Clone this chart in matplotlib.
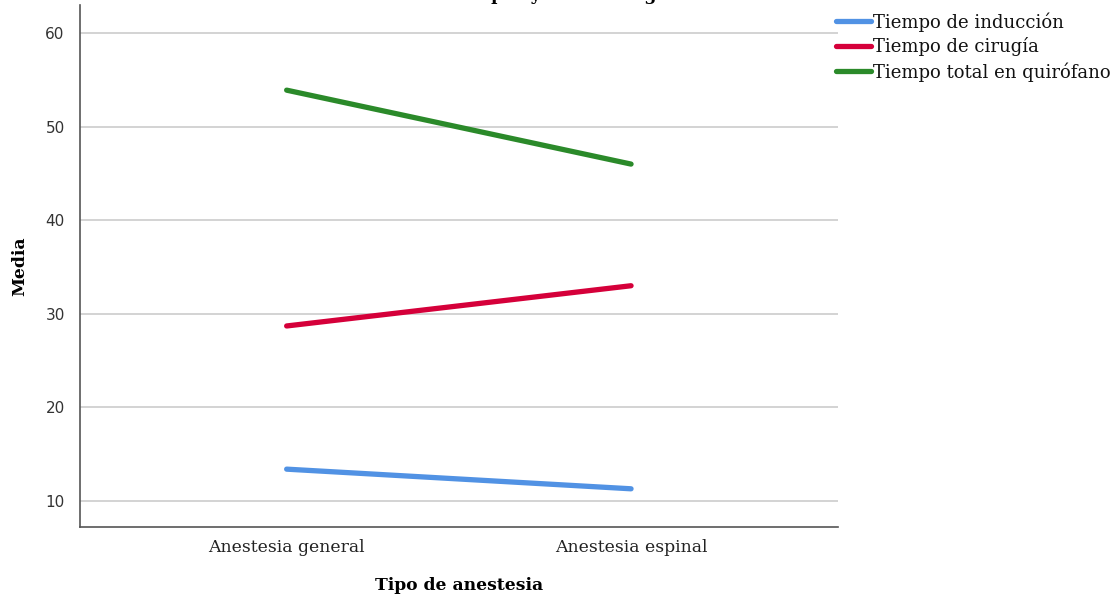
import matplotlib
matplotlib.use("Agg")
import matplotlib.pyplot as plt

categories = ["Anestesia general", "Anestesia espinal"]
series_names = ["Tiempo de inducción", "Tiempo de cirugía", "Tiempo total en quirófano"]
induccion = [13.4, 11.3]
cirugia = [28.7, 33.0]
total = [53.9, 46.0]
yticks = [10, 20, 30, 40, 50, 60]
title_text = "Tiempos y anestesia general"

colors = ["#5192e4", "#d5003a", "#2b8a2a"]

fig = plt.figure(figsize=(11.17, 6.01), dpi=100)
ax = fig.add_axes([80/1117, (601-526.7)/601, (837.7-80)/1117, (526.7-5)/601])

x = list(range(len(categories)))
for vals, name, c in zip([induccion, cirugia, total], series_names, colors):
    ax.plot(x, vals, color=c, lw=3.8, solid_capstyle="round", label=name)

ax.set_xlim(-0.6, 1.6)
ax.set_ylim(7.25, 63.0)
ax.set_yticks(yticks)
ax.set_xticks(x)
ax.set_xticklabels(categories, family="DejaVu Serif", fontsize=12.4, color="#222222")
for lab in ax.get_yticklabels():
    lab.set_family("DejaVu Sans")
    lab.set_fontsize(11)
    lab.set_color("#333333")
ax.tick_params(axis="both", length=0)
ax.tick_params(axis="y", pad=11)
ax.tick_params(axis="x", pad=9)
ax.grid(axis="y", color="#cccccc", lw=1.2)
ax.set_axisbelow(True)
for s in ["top", "right"]:
    ax.spines[s].set_visible(False)
for s in ["left", "bottom"]:
    ax.spines[s].set_color("#555555")
    ax.spines[s].set_linewidth(1.2)

ax.set_xlabel("Tipo de anestesia", family="DejaVu Serif", fontweight="bold", fontsize=12.3, labelpad=15)
ax.set_ylabel("Media", family="DejaVu Serif", fontweight="bold", fontsize=12.3, labelpad=12)

leg = fig.legend(loc="upper left", bbox_to_anchor=(836/1117, 1 - 12/601), frameon=False,
                 prop={"family": "DejaVu Serif", "size": 13}, handlelength=1.95,
                 handletextpad=0.08, labelspacing=0.32, borderpad=0, borderaxespad=0)
for t in leg.get_texts():
    t.set_color("#111111")

fig.text(442/1117, 1.0, title_text, ha="left", va="baseline", family="DejaVu Serif",
         fontweight="bold", fontsize=12.5)

fig.savefig("out.png", dpi=100)
